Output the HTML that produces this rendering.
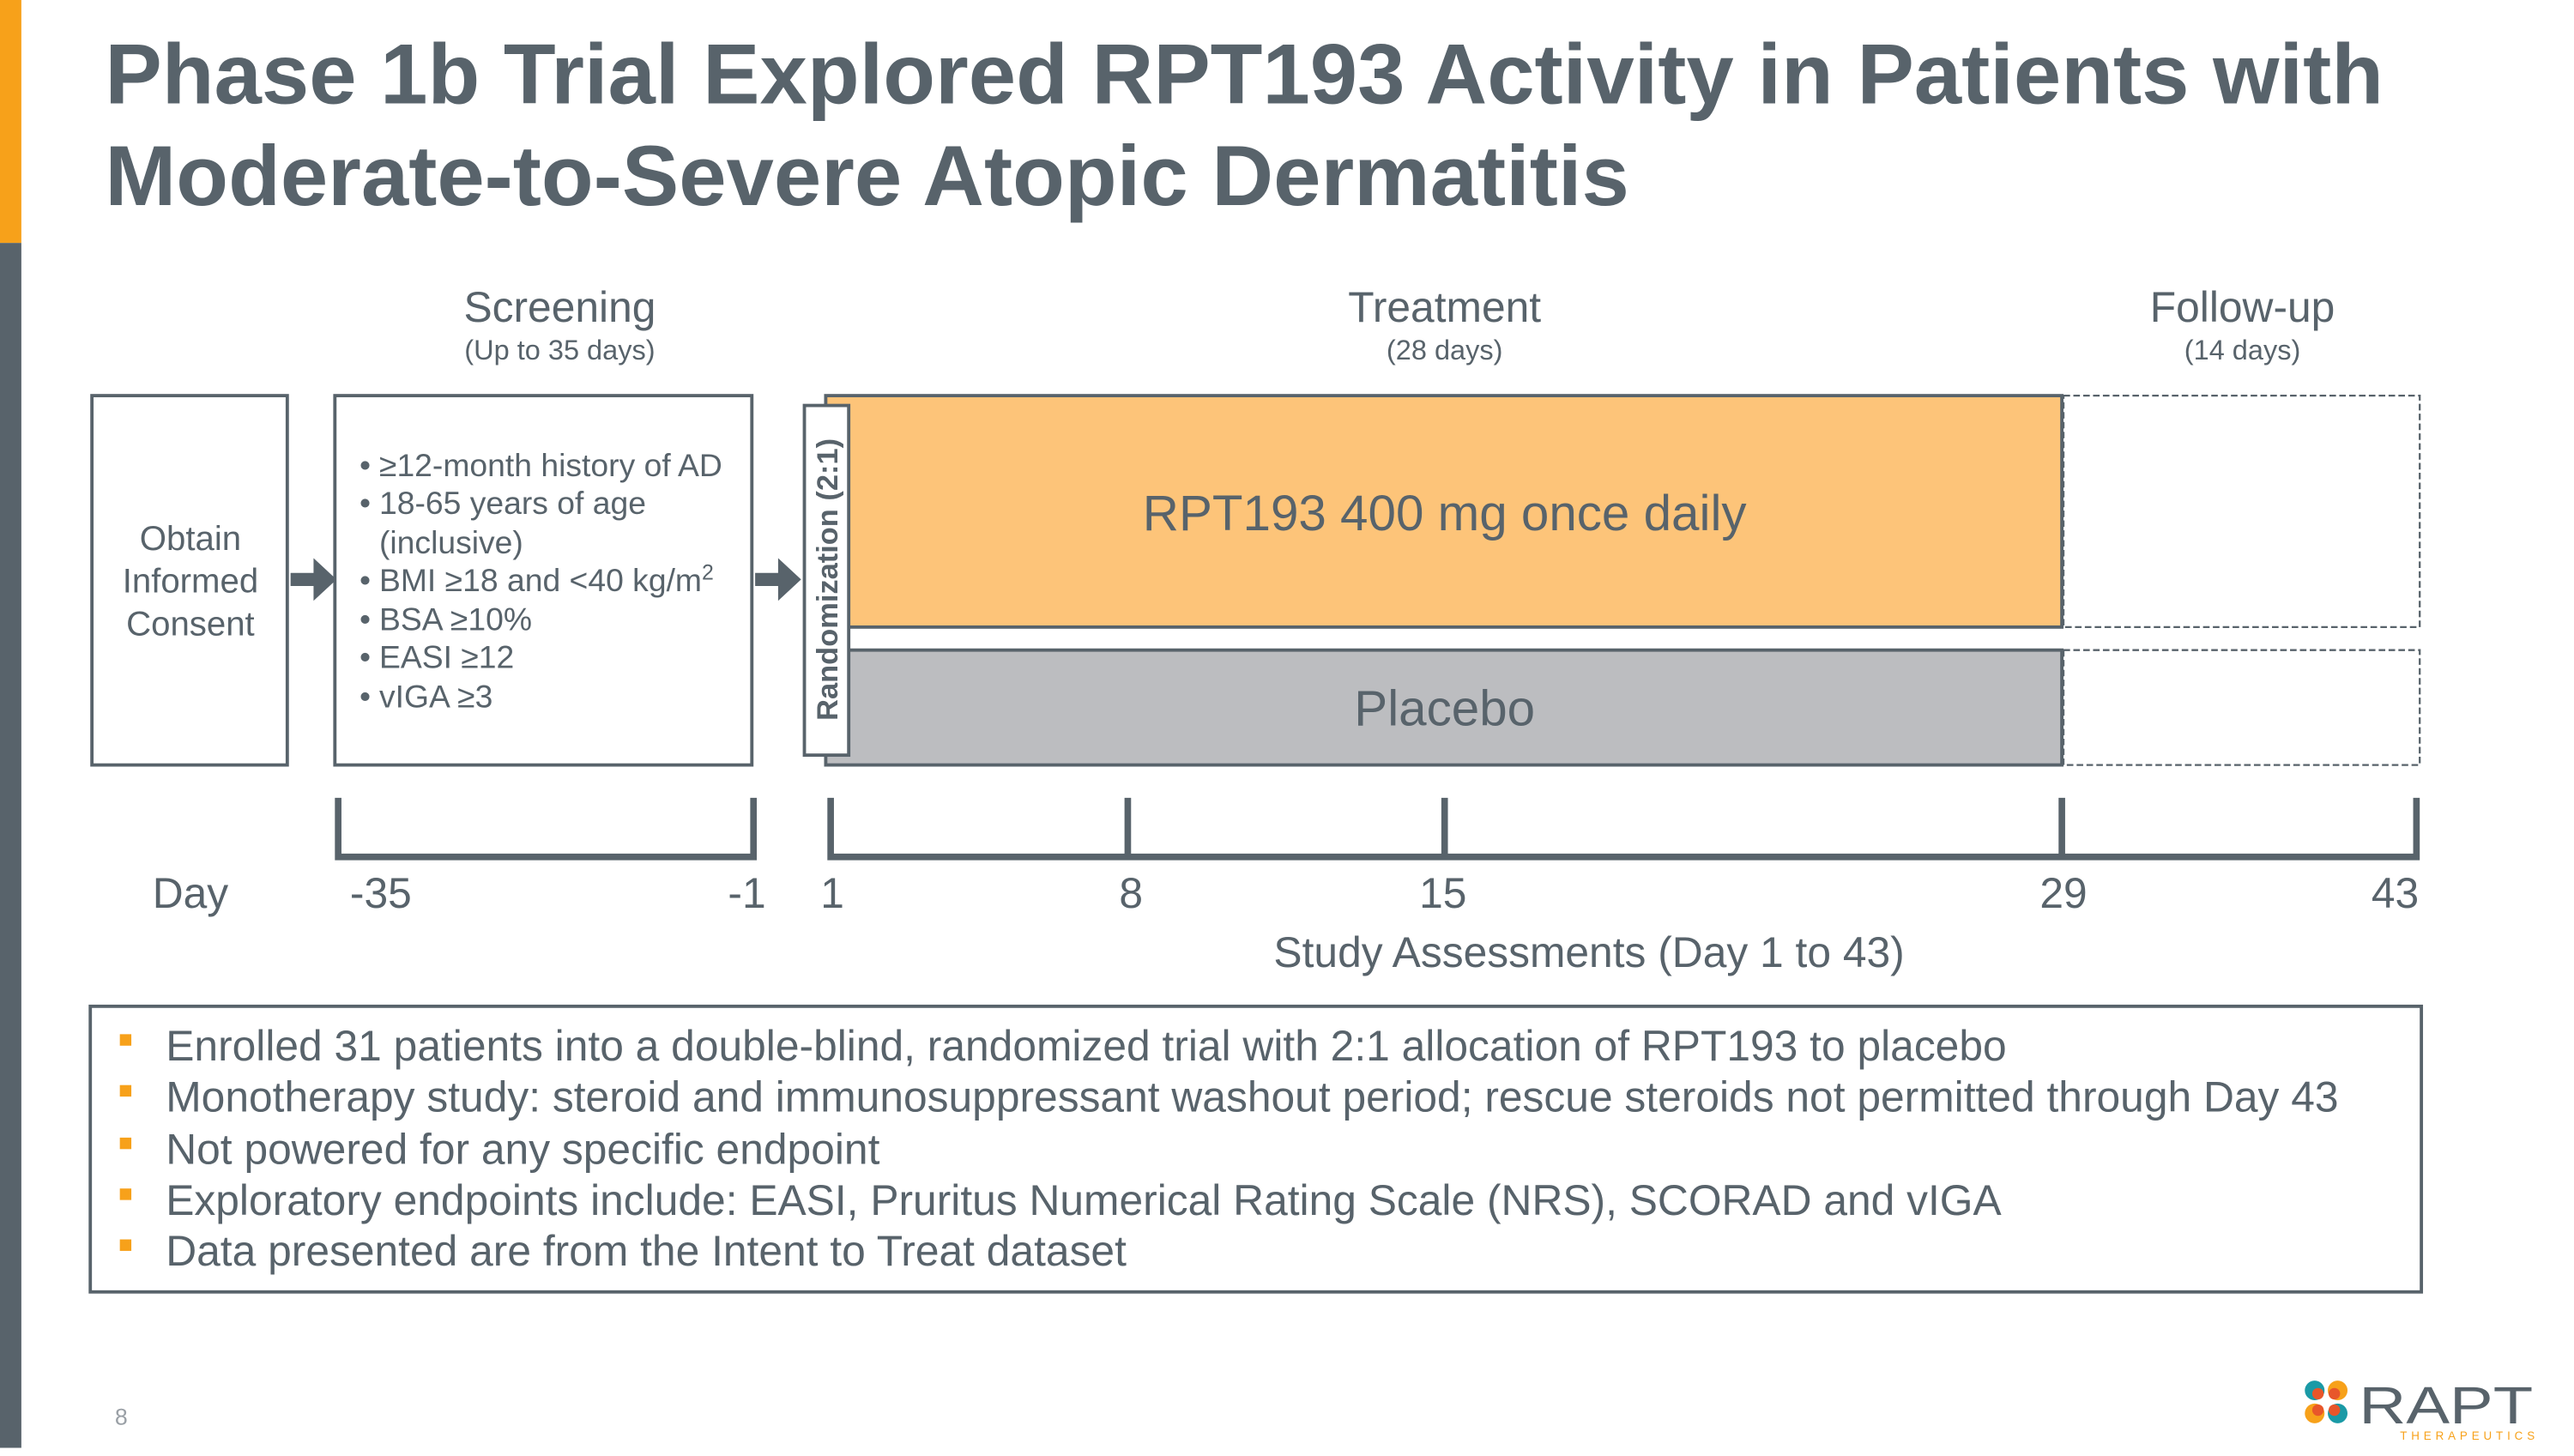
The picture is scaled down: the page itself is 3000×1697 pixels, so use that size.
<!DOCTYPE html>
<html><head><meta charset="utf-8"><style>
html,body{margin:0;padding:0;background:#fff;}
body{width:3000px;height:1687px;overflow:hidden;position:relative;}
#s{position:absolute;left:0;top:0;width:1568px;height:882px;transform:scale(1.9133);transform-origin:0 0;font-family:"Liberation Sans",sans-serif;}
</style></head><body>
<div id="s">
<svg width="1568" height="882" viewBox="0 0 1568 882" xmlns="http://www.w3.org/2000/svg" font-family="Liberation Sans, sans-serif">
<rect x="0" y="0" width="13" height="148" fill="#f7a11a"/>
<rect x="0" y="148" width="13" height="734" fill="#58636b"/>
<g fill="#58636b" font-weight="bold" font-size="52">
<text x="64" y="63">Phase 1b Trial Explored RPT193 Activity in Patients with</text>
<text x="64" y="125">Moderate-to-Severe Atopic Dermatitis</text>
</g>
<g fill="#58636b" text-anchor="middle">
<text x="341" y="196" font-size="26">Screening</text>
<text x="341" y="219" font-size="17">(Up to 35 days)</text>
<text x="880" y="196" font-size="26">Treatment</text>
<text x="880" y="219" font-size="17">(28 days)</text>
<text x="1366" y="196" font-size="26">Follow-up</text>
<text x="1366" y="219" font-size="17">(14 days)</text>
</g>
<rect x="56" y="241" width="119" height="225" fill="#fff" stroke="#58636b" stroke-width="2"/>
<g fill="#58636b" font-size="21" text-anchor="middle">
<text x="116" y="335">Obtain</text><text x="116" y="361">Informed</text><text x="116" y="387">Consent</text></g>
<path d="M177 349 h14 v-9 l14 13 l-14 13 v-9 h-14z" fill="#58636b"/>
<rect x="204" y="241" width="254" height="225" fill="#fff" stroke="#58636b" stroke-width="2"/>
<g fill="#58636b" font-size="19.5">
<text x="219" y="290">•</text><text x="231" y="290">≥12-month history of AD</text>
<text x="219" y="313">•</text><text x="231" y="313">18-65 years of age</text>
<text x="231" y="337">(inclusive)</text>
<text x="219" y="360">•</text><text x="231" y="360">BMI ≥18 and &lt;40 kg/m<tspan font-size="13" dy="-7">2</tspan></text>
<text x="219" y="384">•</text><text x="231" y="384">BSA ≥10%</text>
<text x="219" y="407">•</text><text x="231" y="407">EASI ≥12</text>
<text x="219" y="431">•</text><text x="231" y="431">vIGA ≥3</text>
</g>
<path d="M460 349 h14 v-9 l14 13 l-14 13 v-9 h-14z" fill="#58636b"/>
<rect x="503" y="241" width="753" height="141" fill="#fdc479" stroke="#58636b" stroke-width="2"/>
<rect x="503" y="396" width="753" height="70" fill="#bcbdc0" stroke="#58636b" stroke-width="2"/>
<rect x="1257" y="241" width="217" height="141" fill="#fff" stroke="#58636b" stroke-width="1.2" stroke-dasharray="4,2"/>
<rect x="1257" y="396" width="217" height="70" fill="#fff" stroke="#58636b" stroke-width="1.2" stroke-dasharray="4,2"/>
<text x="880" y="323" font-size="30.5" fill="#58636b" text-anchor="middle">RPT193 400 mg once daily</text>
<text x="880" y="442" font-size="30.5" fill="#58636b" text-anchor="middle">Placebo</text>
<rect x="490" y="247" width="27" height="213" fill="#fff" stroke="#58636b" stroke-width="2"/>
<text transform="translate(510,353) rotate(-90)" font-size="18" font-weight="bold" fill="#58636b" text-anchor="middle">Randomization (2:1)</text>
<g stroke="#58636b" stroke-width="4" fill="none">
<path d="M206 486 V522 H459 V486"/>
<path d="M506 486 V522 H1472 V486"/>
<path d="M687 486 V522 M880 486 V522 M1256 486 V522"/>
</g>
<g fill="#58636b" font-size="26" text-anchor="middle">
<text x="116" y="553">Day</text><text x="232" y="553">-35</text><text x="455" y="553">-1</text>
<text x="507" y="553">1</text><text x="689" y="553">8</text><text x="879" y="553">15</text>
<text x="1257" y="553">29</text><text x="1459" y="553">43</text>
</g>
<text x="968" y="589" font-size="26" fill="#58636b" text-anchor="middle">Study Assessments (Day 1 to 43)</text>
<rect x="55" y="613" width="1420" height="174" fill="#fff" stroke="#58636b" stroke-width="2"/>
<g fill="#f7a11a">
<rect x="73" y="630" width="7" height="7"/><rect x="73" y="661" width="7" height="7"/><rect x="73" y="693" width="7" height="7"/><rect x="73" y="724" width="7" height="7"/><rect x="73" y="755" width="7" height="7"/>
</g>
<g fill="#58636b" font-size="26">
<text x="101" y="646">Enrolled 31 patients into a double-blind, randomized trial with 2:1 allocation of RPT193 to placebo</text>
<text x="101" y="677">Monotherapy study: steroid and immunosuppressant washout period; rescue steroids not permitted through Day 43</text>
<text x="101" y="709">Not powered for any specific endpoint</text>
<text x="101" y="740">Exploratory endpoints include: EASI, Pruritus Numerical Rating Scale (NRS), SCORAD and vIGA</text>
<text x="101" y="771">Data presented are from the Intent to Treat dataset</text>
</g>
<text x="70" y="868" font-size="14" fill="#9aa0a6">8</text>
<g>
<circle cx="1410" cy="847" r="6" fill="#1a9aa6"/><circle cx="1424" cy="847" r="6" fill="#f7a11a"/>
<circle cx="1410" cy="861" r="6" fill="#f7a11a"/><circle cx="1424" cy="861" r="6" fill="#1a9aa6"/>
<circle cx="1412" cy="849" r="3.5" fill="#e8562a"/><circle cx="1422" cy="849" r="3.5" fill="#e8562a"/>
<circle cx="1412" cy="859" r="3.5" fill="#e8562a"/><circle cx="1422" cy="859" r="3.5" fill="#e8562a"/>
<text x="1437" y="867" font-size="32" fill="#58636b" textLength="106" lengthAdjust="spacingAndGlyphs">RAPT</text>
<text x="1462" y="877" font-size="7" fill="#f7a11a" textLength="82" lengthAdjust="spacing">THERAPEUTICS</text>
</g>
</svg>
</div>
</body></html>
